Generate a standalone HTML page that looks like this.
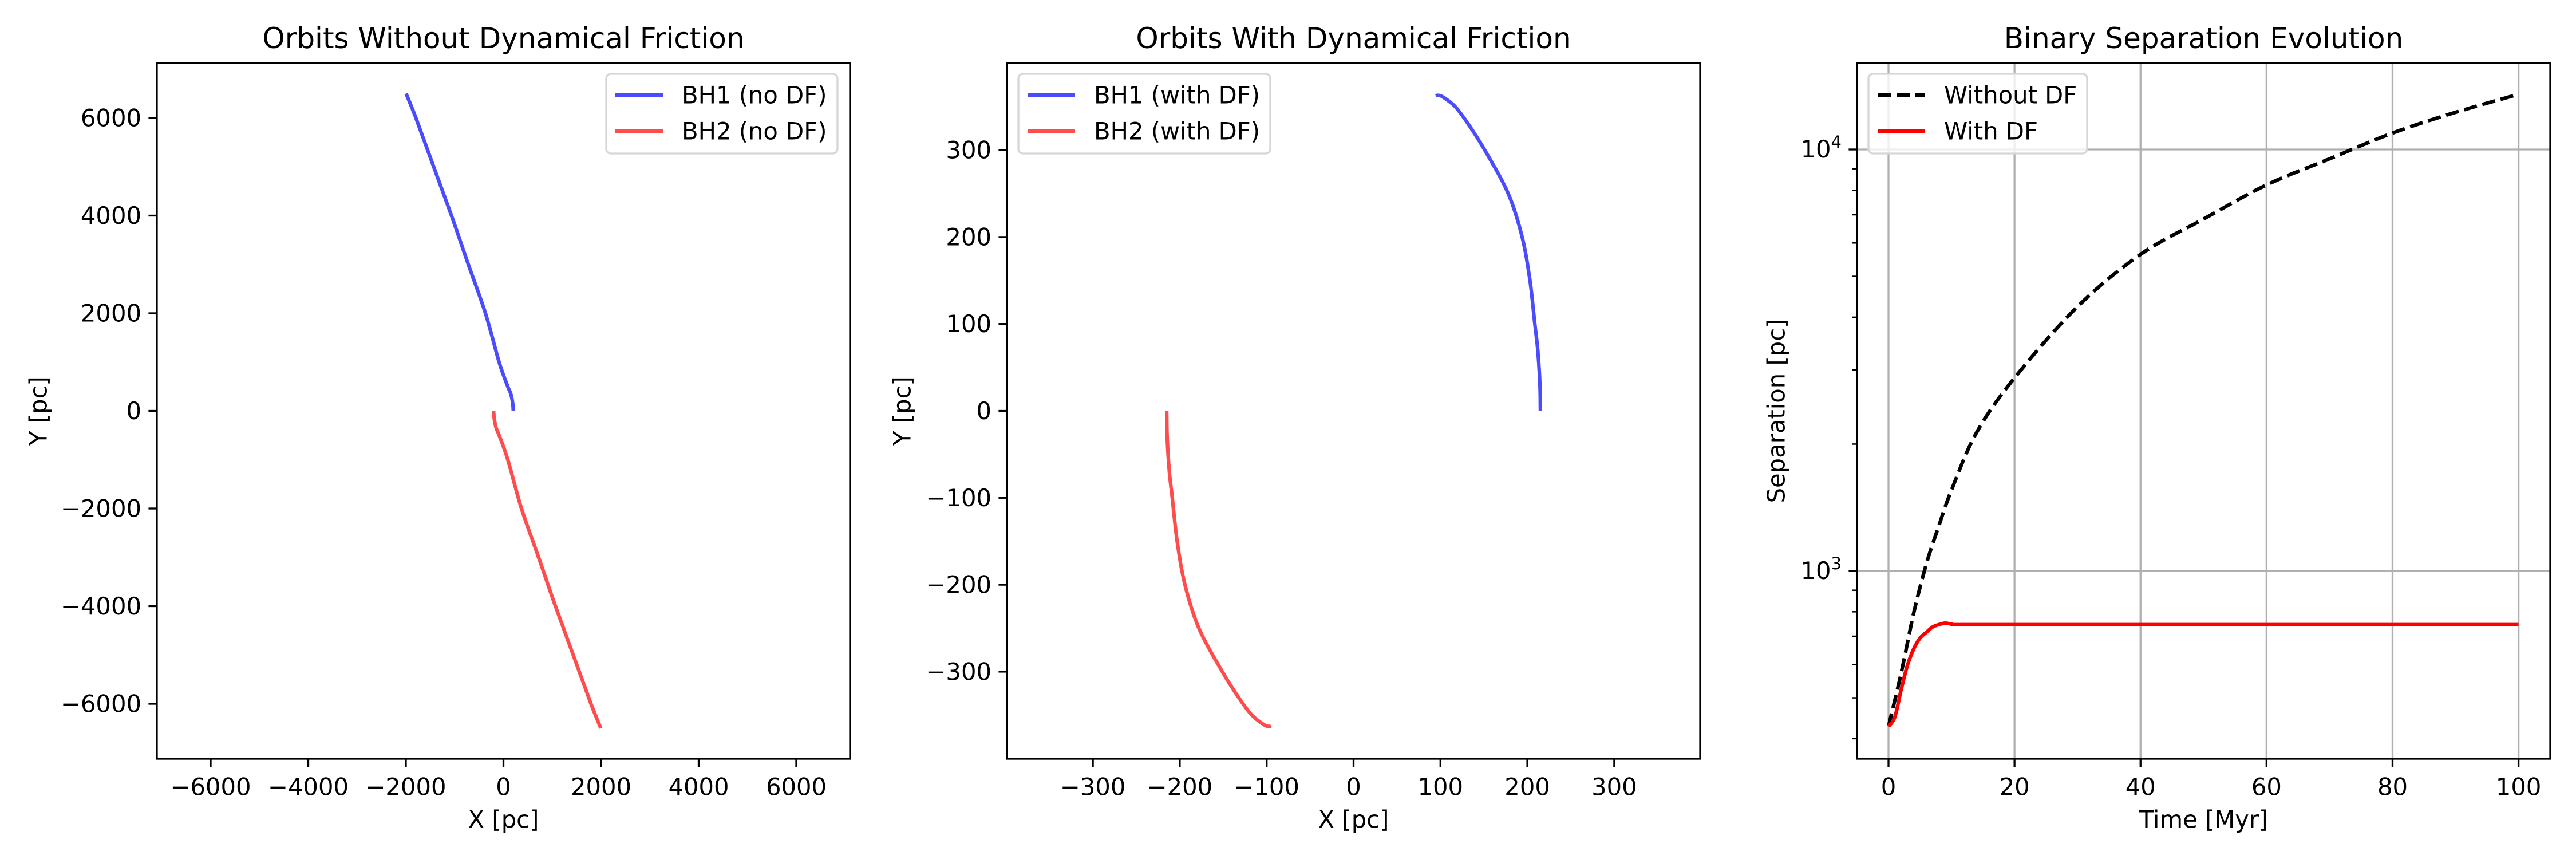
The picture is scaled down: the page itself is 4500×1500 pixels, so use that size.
<!DOCTYPE html>
<html><head><meta charset="utf-8"><style>
html,body{margin:0;padding:0;background:#fff}
svg{display:block;font-family:"DejaVu Sans","Liberation Sans",sans-serif}
</style></head><body>
<svg id="fig" width="4500" height="1500" viewBox="0 0 4500 1500" xmlns="http://www.w3.org/2000/svg"></svg>
<script>
// ---- data ----
const bh1NoDfX = [202, 190, 150, 88, -89, -369, -720, -1065, -1430, -1794, -1995];
const bh1NoDfY = [0, 150, 350, 500, 1000, 2000, 3000, 4000, 5000, 6000, 6500];
const bh2NoDfX = [-202, -190, -150, -88, 89, 369, 720, 1065, 1430, 1794, 1995];
const bh2NoDfY = [0, -150, -350, -500, -1000, -2000, -3000, -4000, -5000, -6000, -6500];
const bh1DfX = [215, 214.5, 212, 208.6, 203, 194, 178, 151, 132, 117, 103, 97, 95];
const bh1DfY = [0, 30, 70, 100, 150, 200, 250, 300, 330, 350, 361, 363, 362];
const bh2DfX = [-215, -214.5, -212, -208.6, -203, -194, -178, -151, -132, -117, -103, -97, -95];
const bh2DfY = [0, -30, -70, -100, -150, -200, -250, -300, -330, -350, -361, -363, -362];
const timeNoDf = [0, 2, 4, 6, 8, 10, 14, 20, 30, 40, 50, 60, 70, 80, 90, 100];
const sepNoDf = [428, 571, 794, 1038, 1280, 1556, 2133, 2871, 4237, 5637, 6838, 8240, 9500, 10940, 12250, 13520];
const timeDf = [0, 1, 2, 3, 4, 5, 6, 7, 8, 9, 10, 11, 20, 40, 60, 80, 100];
const sepDf = [428, 450, 522, 597, 653, 693, 715, 736, 746, 752, 748, 746, 746, 746, 746, 746, 746];
const ticks1 = [-6000, -4000, -2000, 0, 2000, 4000, 6000];
const ticks2 = [-300, -200, -100, 0, 100, 200, 300];
const ticks3x = [0, 20, 40, 60, 80, 100];
const ticks3yMajor = [1000, 10000];
const ticks3yMinor = [400, 500, 600, 700, 800, 900, 2000, 3000, 4000, 5000, 6000, 7000, 8000, 9000];

const NS = "http://www.w3.org/2000/svg";
const svg = document.getElementById('fig');
function mk(tag, attrs, parent, name) {
  const e = document.createElementNS(NS, tag);
  for (const k in attrs) e.setAttribute(k, attrs[k]);
  
  
  (parent || svg).appendChild(e);
  return e;
}
function txt(s, x, y, size, anchor, parent, name, rot) {
  const t = mk('text', {x: x, y: y, 'font-size': size, 'text-anchor': anchor, 'dominant-baseline': 'central', fill: '#000'}, parent, name);
  if (rot) t.setAttribute('transform', 'rotate(-90 ' + x + ' ' + y + ')');
  t.textContent = s;
  return t;
}
const TOP = 110, BOT = 1325, W = 1211;
const FS = 41.7, TFS = 50;

function axesFrame(g, L, name) {
  mk('rect', {x: L, y: TOP, width: W, height: BOT - TOP, fill: 'none', stroke: '#000', 'stroke-width': 3.3}, g, name + '-frame');
}
// smooth path (Catmull-Rom -> cubic Bezier) through the data points
function path(g, xs, ys, fx, fy, attrs, name) {
  const P = xs.map((x, i) => [fx(x), fy(ys[i])]);
  let d = 'M' + P[0][0].toFixed(1) + ',' + P[0][1].toFixed(1);
  for (let i = 0; i < P.length - 1; i++) {
    const p0 = P[Math.max(0, i - 1)], p1 = P[i], p2 = P[i + 1], p3 = P[Math.min(P.length - 1, i + 2)];
    const c1 = [p1[0] + (p2[0] - p0[0]) / 6, p1[1] + (p2[1] - p0[1]) / 6];
    const c2 = [p2[0] - (p3[0] - p1[0]) / 6, p2[1] - (p3[1] - p1[1]) / 6];
    d += 'C' + c1[0].toFixed(1) + ',' + c1[1].toFixed(1) + ' ' + c2[0].toFixed(1) + ',' + c2[1].toFixed(1) + ' ' + p2[0].toFixed(1) + ',' + p2[1].toFixed(1);
  }
  const a = Object.assign({d: d, fill: 'none', 'stroke-width': 6.25, 'stroke-linejoin': 'round'}, attrs);
  return mk('path', a, g, name);
}
function xTicks(g, ticks, fx, name) {
  ticks.forEach(v => {
    const x = fx(v);
    mk('line', {x1: x, x2: x, y1: BOT, y2: BOT + 14.6, stroke: '#000', 'stroke-width': 3.3}, g, name + '-tick');
    txt(v < 0 ? '\u2212' + (-v) : '' + v, x, 1374, FS, 'middle', g, name + '-tick-label');
  });
}
function yTicks(g, ticks, fy, L, name) {
  ticks.forEach(v => {
    const y = fy(v);
    mk('line', {x1: L - 14.6, x2: L, y1: y, y2: y, stroke: '#000', 'stroke-width': 3.3}, g, name + '-tick');
    txt(v < 0 ? '\u2212' + (-v) : '' + v, L - 27, y, FS, 'end', g, name + '-tick-label');
  });
}
function legend(g, x, y, w, entries, name) {
  const lg = mk('g', {}, g, name);
  mk('rect', {x: x, y: y, width: w, height: 139, rx: 8, fill: '#fff', 'fill-opacity': 0.8, stroke: '#d6d6d6', 'stroke-width': 3.3}, lg, 'legend-box');
  entries.forEach((e, i) => {
    const cy = y + 37 + i * 63;
    mk('line', Object.assign({x1: x + 16, x2: x + 99, y1: cy, y2: cy, 'stroke-width': 6.25}, e.style), lg, 'legend-line');
    txt(e.label, x + 132, cy, FS, 'start', lg, 'legend-entry');
  });
}

// ---- Panel 1 ----
(function () {
  const L = 274, g = mk('g', {}, svg, 'panel-no-df');
  const cx = L + W / 2, cy = (TOP + BOT) / 2, k = 0.08525;
  const fx = v => cx + v * k, fy = v => cy - v * k;
  txt('Orbits Without Dynamical Friction', cx, 67, TFS, 'middle', g, 'panel-title');
  path(g, bh1NoDfX, bh1NoDfY, fx, fy, {stroke: 'rgba(0,0,255,0.7)'}, 'bh1-no-df-line');
  path(g, bh2NoDfX, bh2NoDfY, fx, fy, {stroke: 'rgba(255,0,0,0.7)'}, 'bh2-no-df-line');
  axesFrame(g, L, 'axes');
  xTicks(g, ticks1, fx, 'x-axis');
  yTicks(g, ticks1, fy, L, 'y-axis');
  txt('X [pc]', cx, 1431, FS, 'middle', g, 'x-axis-title');
  txt('Y [pc]', 67, cy, FS, 'middle', g, 'y-axis-title', true);
  legend(g, 1059, 129, 404, [
    {label: 'BH1 (no DF)', style: {stroke: 'rgba(0,0,255,0.7)'}},
    {label: 'BH2 (no DF)', style: {stroke: 'rgba(255,0,0,0.7)'}}], 'legend');
})();

// ---- Panel 2 ----
(function () {
  const L = 1759, g = mk('g', {}, svg, 'panel-with-df');
  const cx = L + W / 2, cy = (TOP + BOT) / 2, k = 1.518;
  const fx = v => cx + v * k, fy = v => cy - v * k;
  txt('Orbits With Dynamical Friction', cx, 67, TFS, 'middle', g, 'panel-title');
  path(g, bh1DfX, bh1DfY, fx, fy, {stroke: 'rgba(0,0,255,0.7)'}, 'bh1-df-line');
  path(g, bh2DfX, bh2DfY, fx, fy, {stroke: 'rgba(255,0,0,0.7)'}, 'bh2-df-line');
  axesFrame(g, L, 'axes');
  xTicks(g, ticks2, fx, 'x-axis');
  yTicks(g, ticks2, fy, L, 'y-axis');
  txt('X [pc]', cx, 1431, FS, 'middle', g, 'x-axis-title');
  txt('Y [pc]', 1576, cy, FS, 'middle', g, 'y-axis-title', true);
  legend(g, 1779, 129, 440, [
    {label: 'BH1 (with DF)', style: {stroke: 'rgba(0,0,255,0.7)'}},
    {label: 'BH2 (with DF)', style: {stroke: 'rgba(255,0,0,0.7)'}}], 'legend');
})();

// ---- Panel 3 ----
(function () {
  const L = 3244, g = mk('g', {}, svg, 'panel-separation');
  const fx = v => 3299 + v * 11.006;
  const fy = v => 997 - (Math.log10(v) - 3) * 736;
  const cx = L + W / 2, cy = (TOP + BOT) / 2;
  txt('Binary Separation Evolution', cx, 67, TFS, 'middle', g, 'panel-title');
  ticks3x.forEach(v => mk('line', {x1: fx(v), x2: fx(v), y1: TOP, y2: BOT, stroke: '#b0b0b0', 'stroke-width': 3.3}, g, 'x-grid-line'));
  ticks3yMajor.forEach(v => mk('line', {x1: L, x2: L + W, y1: fy(v), y2: fy(v), stroke: '#b0b0b0', 'stroke-width': 3.3}, g, 'y-grid-line'));
  path(g, timeNoDf, sepNoDf, fx, fy, {stroke: '#000', 'stroke-dasharray': '23 10'}, 'without-df-line');
  path(g, timeDf, sepDf, fx, fy, {stroke: '#f00'}, 'with-df-line');
  axesFrame(g, L, 'axes');
  xTicks(g, ticks3x, fx, 'x-axis');
  ticks3yMinor.forEach(v => mk('line', {x1: L - 8.3, x2: L, y1: fy(v), y2: fy(v), stroke: '#000', 'stroke-width': 2.5}, g, 'y-minor-tick'));
  ticks3yMajor.forEach(v => {
    const y = fy(v);
    mk('line', {x1: L - 14.6, x2: L, y1: y, y2: y, stroke: '#000', 'stroke-width': 3.3}, g, 'y-axis-tick');
    const t = mk('text', {x: L - 27, y: y + 14, 'font-size': FS, 'text-anchor': 'end', fill: '#000'}, g, 'y-axis-tick-label');
    const a = document.createElementNS(NS, 'tspan'); a.textContent = '10';
    
    
    const b = document.createElementNS(NS, 'tspan'); b.textContent = '' + Math.round(Math.log10(v));
    
    
    b.setAttribute('font-size', 29); b.setAttribute('dy', -17);
    t.appendChild(a); t.appendChild(b);
  });
  txt('Time [Myr]', cx, 1431, FS, 'middle', g, 'x-axis-title');
  txt('Separation [pc]', 3103, cy, FS, 'middle', g, 'y-axis-title', true);
  legend(g, 3264, 129, 382, [
    {label: 'Without DF', style: {stroke: '#000', 'stroke-dasharray': '23 10'}},
    {label: 'With DF', style: {stroke: '#f00'}}], 'legend');
})();
</script>
</body></html>
